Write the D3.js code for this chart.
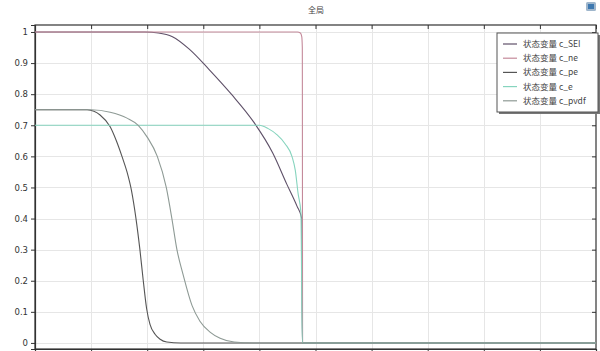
<!DOCTYPE html>
<html>
<head>
<meta charset="utf-8">
<script src="https://cdn.jsdelivr.net/npm/d3@7"></script>
<style>
  body { margin: 0; background: #fff; }
  svg { display: block; font-family: "DejaVu Sans", sans-serif; }
</style>
</head>
<body>
<svg id="chart" width="600" height="351"></svg>
<script>
// series (x in 0..10, y in 0..1)
const seriesNames = ["状态变量 c_SEI", "状态变量 c_ne", "状态变量 c_pe", "状态变量 c_e", "状态变量 c_pvdf"];
const seriesColors = ["#5e5068", "#c4899a", "#555555", "#86d4be", "#8e9a95"];

const cSEI = [[0, 1], [1.96, 1], [2.2, 0.997], [2.45, 0.985], [2.75, 0.945], [3.1, 0.88], [3.5, 0.80],
  [3.9, 0.71], [4.24, 0.61], [4.49, 0.51], [4.67, 0.44], [4.755, 0.40], [4.765, 0], [10, 0]];
const cNe = [[0, 1], [4.68, 1], [4.73, 0.997], [4.755, 0.985], [4.765, 0.95], [4.77, 0], [10, 0]];
const cPe = [[0, 0.75], [0.93, 0.75], [1.05, 0.745], [1.16, 0.733], [1.34, 0.695], [1.45, 0.65],
  [1.55, 0.60], [1.64, 0.55], [1.72, 0.49], [1.80, 0.40], [1.87, 0.30], [1.93, 0.20], [1.99, 0.11],
  [2.05, 0.06], [2.14, 0.028], [2.23, 0.012], [2.35, 0.003], [2.6, 0], [10, 0]];
const cE = [[0, 0.70], [4.0, 0.70], [4.15, 0.69], [4.31, 0.67], [4.46, 0.64], [4.58, 0.60],
  [4.64, 0.555], [4.69, 0.48], [4.74, 0.42], [4.765, 0], [10, 0]];
const cPvdf = [[0, 0.75], [1.0, 0.75], [1.34, 0.742], [1.64, 0.723], [1.84, 0.70], [2.0, 0.662],
  [2.18, 0.60], [2.34, 0.50], [2.44, 0.40], [2.53, 0.30], [2.64, 0.22], [2.8, 0.12], [2.94, 0.07],
  [3.12, 0.035], [3.3, 0.015], [3.55, 0.003], [3.9, 0], [10, 0]];
const seriesData = [cSEI, cNe, cPe, cE, cPvdf];

const xTicks = d3.range(0, 11, 1);
const yTicks = [0, 0.1, 0.2, 0.3, 0.4, 0.5, 0.6, 0.7, 0.8, 0.9, 1];
const yTickLabels = ["0", "0.1", "0.2", "0.3", "0.4", "0.5", "0.6", "0.7", "0.8", "0.9", "1"];

const svg = d3.select("#chart");
const margin = { left: 35, right: 4, top: 25, bottom: 2 };
const W = 600, H = 351;

const x = d3.scaleLinear().domain([0, 10]).range([margin.left, W - margin.right]);
const y = d3.scaleLinear().domain([-0.0195, 1.0225]).range([H - margin.bottom, margin.top]);

// title
svg.append("text")
  .attr("x", 316).attr("y", 13)
  .attr("text-anchor", "middle")
  .attr("font-size", 8)
  .attr("font-family", "Noto Sans CJK SC")
  .attr("fill", "#444")
  .text("全局");

// small icon top-right
const icon = svg.append("g").attr("transform", "translate(586,2)");
icon.append("rect").attr("width", 10).attr("height", 9).attr("rx", 1.5).attr("fill", "#9fb6cc");
icon.append("rect").attr("x", 2).attr("y", 2).attr("width", 6).attr("height", 5).attr("fill", "#3d78b0");

// grid
const grid = svg.append("g").attr("stroke", "#e6e6e6").attr("stroke-width", 1);
grid.selectAll(".gx").data(xTicks.slice(1, -1)).join("line")
  .attr("x1", d => Math.round(x(d)) + 0.5).attr("x2", d => Math.round(x(d)) + 0.5)
  .attr("y1", margin.top).attr("y2", H - margin.bottom);
grid.selectAll(".gy").data(yTicks).join("line")
  .attr("x1", margin.left).attr("x2", W - margin.right)
  .attr("y1", d => Math.round(y(d)) + 0.5).attr("y2", d => Math.round(y(d)) + 0.5);

// axes
const axisColor = "#333";
const axLeft = svg.append("g").attr("transform", `translate(${margin.left},0)`)
  .call(d3.axisLeft(y).tickValues(yTicks).tickFormat((d, i) => yTickLabels[i]).tickSize(4).tickPadding(3));
const axRight = svg.append("g").attr("transform", `translate(${W - margin.right},0)`)
  .call(d3.axisLeft(y).tickValues(yTicks).tickFormat("").tickSize(4));
const axTop = svg.append("g").attr("transform", `translate(0,${margin.top})`)
  .call(d3.axisBottom(x).tickValues(xTicks).tickFormat("").tickSize(4));
const axBottom = svg.append("g").attr("transform", `translate(0,${H - margin.bottom})`)
  .call(d3.axisBottom(x).tickValues(xTicks).tickFormat("").tickSize(4));
[axLeft, axRight, axTop, axBottom].forEach(g => {
  g.selectAll("path").attr("stroke", axisColor).attr("stroke-width", 1.2);
  g.selectAll("line").attr("stroke", axisColor);
  g.selectAll("text").attr("fill", "#333").attr("font-size", 8.5).attr("font-family", "DejaVu Sans");
});
axRight.select("path").remove();
axTop.select("path").remove();
svg.append("rect")
  .attr("x", margin.left).attr("y", margin.top)
  .attr("width", W - margin.right - margin.left).attr("height", H - margin.bottom - margin.top)
  .attr("fill", "none").attr("stroke", axisColor).attr("stroke-width", 1.2);

// lines
const line = d3.line().x(d => x(d[0])).y(d => y(d[1])).curve(d3.curveMonotoneX);
svg.append("g").attr("fill", "none")
  .selectAll("path").data(seriesData).join("path")
  .attr("d", line)
  .attr("stroke", (d, i) => seriesColors[i])
  .attr("stroke-width", 1.1);

// legend
const legend = svg.append("g").attr("transform", "translate(497,33)");
legend.append("rect").attr("x", 2).attr("y", 2).attr("width", 101).attr("height", 79).attr("fill", "#777");
legend.append("rect").attr("width", 101).attr("height", 79).attr("fill", "#fff").attr("stroke", "#555").attr("stroke-width", 1);
const rows = legend.selectAll(".row").data(seriesNames).join("g")
  .attr("transform", (d, i) => `translate(0,${11 + i * 14.2})`);
rows.append("line").attr("x1", 6).attr("x2", 20)
  .attr("stroke", (d, i) => seriesColors[i]).attr("stroke-width", 1.2);
rows.append("text").attr("x", 26).attr("dy", "0.35em")
  .attr("font-size", 8.5).attr("font-family", "Noto Sans CJK SC").attr("fill", "#444")
  .text(d => d);
</script>
</body>
</html>
